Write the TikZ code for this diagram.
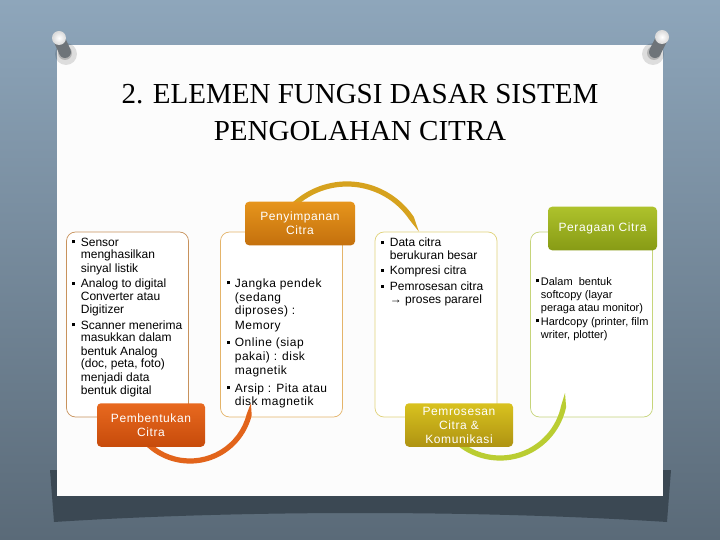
\documentclass[tikz,border=0pt]{standalone}
\usepackage{fontspec}
\setmainfont{Liberation Sans}
\newfontfamily\titlefont{Liberation Serif}
\usetikzlibrary{calc}

\definecolor{bgtop}{HTML}{8EA6BB}
\definecolor{bgbot}{HTML}{5A6A78}
\definecolor{shadowc}{HTML}{3B4853}
\definecolor{paperc}{HTML}{FCFCFC}
\definecolor{pinbody}{HTML}{6E7479}
\definecolor{oneA}{HTML}{E8691F}
\definecolor{oneB}{HTML}{C74B0B}
\definecolor{twoA}{HTML}{E6951C}
\definecolor{twoB}{HTML}{C4700D}
\definecolor{threeA}{HTML}{D9C21F}
\definecolor{threeB}{HTML}{AE9312}
\definecolor{fourA}{HTML}{AEC22C}
\definecolor{fourB}{HTML}{879B15}
\definecolor{oneline}{HTML}{C8925C}
\definecolor{twoline}{HTML}{E4B46A}
\definecolor{threeline}{HTML}{E0D27A}
\definecolor{fourline}{HTML}{C6D47A}
\definecolor{arcone}{HTML}{E2641B}
\definecolor{arctwo}{HTML}{D6A21E}
\definecolor{arcthree}{HTML}{BACD32}

\newcommand{\sqb}{\rule[2.6pt]{3.2pt}{3.2pt}}

\tikzset{
  title/.style={inner sep=0pt, font=\titlefont\fontsize{29}{35}\selectfont},
  panel/.style={draw=#1, fill=white, rounded corners=9pt, line width=0.7pt,
    minimum width=122pt, minimum height=185pt, inner sep=0pt},
  tab/.style 2 args={top color=#1, bottom color=#2, draw=none, rounded corners=4pt,
    text=white, align=center, inner sep=0pt, minimum height=43.5pt,
    font=\fontsize{12}{14}\selectfont\addfontfeatures{LetterSpace=5}},
  body/.style={anchor=base west, inner sep=0pt},
  pinhead/.style={inner color=white, outer color=black!15},
}

\begin{document}
\begin{tikzpicture}[x=1pt, y=-1pt]
  % background, shadow and paper
  \fill[top color=bgtop, bottom color=bgbot] (0,0) rectangle (720,540);
  \fill[shadowc] (50,470) -- (671,470) -- (667,522) .. controls (480,510) and (240,510) .. (54,522) -- cycle;
  \fill[paperc] (57,45) rectangle (663,496);

  % pins
  \coordinate (pinl) at (59,38);
  \coordinate (pinr) at (662,37);
  \fill[black, opacity=0.12] ($(pinl)+(7,16)$) circle (11);
  \fill[black, opacity=0.18] ($(pinl)+(6,15)$) circle (7);
  \draw[pinbody, line width=12pt, line cap=round] ($(pinl)+(1,3)$) -- ($(pinl)+(6,14)$);
  \shade[pinhead] (pinl) circle (7);
  \fill[black, opacity=0.12] ($(pinr)+(-9,17)$) circle (11);
  \fill[black, opacity=0.18] ($(pinr)+(-8,16)$) circle (7);
  \draw[pinbody, line width=12pt, line cap=round] ($(pinr)+(-1,3)$) -- ($(pinr)+(-7,15)$);
  \shade[pinhead] (pinr) circle (7);

  % title
  \node [title, anchor=base] (t1) at (360,104) {2. ELEMEN FUNGSI DASAR SISTEM};
  \node [title, anchor=base] (t2) at (360,141) {PENGOLAHAN CITRA};

  % panels
  \node [panel=oneline] (p1) at (127.5,324.5) {};
  \node [panel=twoline] (p2) at (281.5,324.5) {};
  \node [panel=threeline] (p3) at (436,324.5) {};
  \node [panel=fourline] (p4) at (591.5,324.5) {};

  % arcs
  \coordinate (c1) at (190,400);
  \coordinate (c2) at (347,262);
  \coordinate (c3) at (500,393);
  \fill[arcone] ($(c1)+(150:63.6)$) arc[start angle=150, end angle=14, radius=63.6]
    -- ($(c1)+(3:61)$) -- ($(c1)+(14:58.4)$) arc[start angle=14, end angle=150, radius=58.4] -- cycle;
  \fill[arctwo] ($(c2)+(200:80.6)$) arc[start angle=200, end angle=326, radius=80.6]
    -- ($(c2)+(337:78)$) -- ($(c2)+(326:75.4)$) arc[start angle=326, end angle=200, radius=75.4] -- cycle;
  \fill[arcthree] ($(c3)+(145:67.6)$) arc[start angle=145, end angle=12, radius=67.6]
    -- ($(c3)+(0:65)$) -- ($(c3)+(12:62.4)$) arc[start angle=12, end angle=145, radius=62.4] -- cycle;

  % tabs
  \node [tab={oneA}{oneB}, minimum width=108pt] (a1) at (151,425) {Pembentukan\\Citra};
  \node [tab={twoA}{twoB}, minimum width=110pt] (a2) at (300,223.5) {Penyimpanan\\Citra};
  \node [tab={threeA}{threeB}, minimum width=108pt] (a3) at (459,425) {Pemrosesan\\Citra \&\\Komunikasi};
  \node [tab={fourA}{fourB}, minimum width=109pt] (a4) at (602.5,228.5) {Peragaan Citra};

  % texts
  \node [body, font=\fontsize{12}{13}\selectfont] (s1) at (72,246) {%
    \begin{tabular}[t]{@{}l@{\hspace{5.5pt}}l@{}}
      \sqb & Sensor\\
          & menghasilkan\\
          & sinyal listik\\[2.5pt]
      \sqb & Analog to digital\\
          & Converter atau\\
          & Digitizer\\[2.5pt]
      \sqb & Scanner menerima\\
          & masukkan dalam\\
          & bentuk Analog\\
          & (doc, peta, foto)\\
          & menjadi data\\
          & bentuk digital
    \end{tabular}};
  \node [body, font=\fontsize{12}{14}\selectfont\addfontfeatures{LetterSpace=4}] (s2) at (227,287) {%
    \begin{tabular}[t]{@{}l@{\hspace{4.5pt}}l@{}}
      \sqb & Jangka pendek\\
          & (sedang\\
          & diproses) :\\
          & Memory\\[3.5pt]
      \sqb & Online (siap\\
          & pakai) : disk\\
          & magnetik\\[3.5pt]
      \sqb & Arsip : Pita atau\\
          & disk magnetik
    \end{tabular}};
  \node [body, font=\fontsize{12}{13}\selectfont] (s3) at (381,247) {%
    \begin{tabular}[t]{@{}l@{\hspace{5.5pt}}l@{}}
      \sqb & Data citra\\
          & berukuran besar\\[1.5pt]
      \sqb & Kompresi citra\\[3pt]
      \sqb & Pemrosesan citra\\
          & → proses pararel
    \end{tabular}};
  \node [body, font=\fontsize{11}{13}\selectfont] (s4) at (536,285) {%
    \begin{tabular}[t]{@{}l@{\hspace{1.5pt}}l@{}}
      \sqb & Dalam\ \ bentuk\\
          & softcopy (layar\\
          & peraga atau monitor)\\[1pt]
      \sqb & Hardcopy (printer, film\\
          & writer, plotter)
    \end{tabular}};
\end{tikzpicture}
\end{document}
